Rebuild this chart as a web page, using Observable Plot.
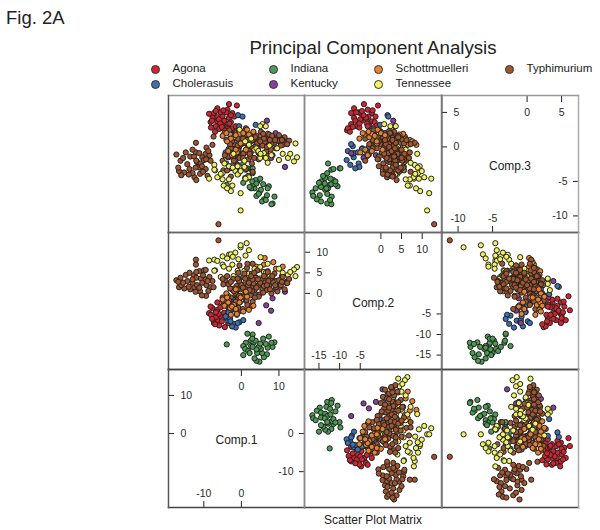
<!DOCTYPE html>
<html>
<head>
<meta charset="utf-8">
<script src="https://cdn.jsdelivr.net/npm/d3@7"></script>
<script src="https://cdn.jsdelivr.net/npm/@observablehq/plot@0.6"></script>
<style>
html,body{margin:0;padding:0;background:#fff;}
#root{position:relative;width:600px;height:530px;overflow:hidden;font-family:"Liberation Sans",Arial,sans-serif;color:#222;}
#root>*{position:absolute;}
.t{white-space:nowrap;line-height:1;}
.key{width:7px;height:7px;border-radius:50%;border:1px solid #333;}
</style>
</head>
<body>
<div id="root"></div>
<script>
// Scores: [Comp.1, Comp.2, Comp.3]
const agona = [[-3.3,-4.1,6.2],[-1.2,-0.7,6.0],[-6.4,-6.5,5.6],[-8.6,-4.8,4.8],[-7.3,-7.2,4.9],[-5.5,-5.5,5.0],[-3.7,-3.2,5.4],[-2.4,-2.2,4.9],[-6.4,-4.0,4.3],[-5.0,-3.0,4.4],[-3.3,-6.5,4.2],[-1.9,-1.3,4.4],[-7.7,-3.6,4.2],[-6.4,-2.2,3.7],[-4.6,-4.7,3.8],[-2.8,-1.5,3.6],[-6.8,-5.8,3.0],[-5.0,-1.0,3.1],[-3.7,-2.7,3.0],[-8.1,-5.2,2.8],[-5.9,-7.8,2.6],[-4.4,-8.2,2.4],[-2.4,-8.0,2.7],[-3.5,-7.2,3.3],[-7.0,-7.5,2.2],[-6.0,-5.0,4.0],[-4.0,-6.0,5.0],[-8.2,-3.2,3.6],[-7.8,-6.2,3.8],[-4.8,-2.0,5.3],[-2.8,-4.2,4.6],[-5.6,-3.4,3.4],[-6.8,-4.6,5.2],[-3.2,-5.2,3.4],[-1.5,-3.2,3.0],[-5.2,-6.8,2.9]];
const cholerasuis = [[-0.9,1.6,4.6],[0.3,1.8,4.4],[-0.8,-4.5,-0.2],[-4.0,-5.4,-2.4],[-3.5,-6.6,-1.5],[-2.2,-7.4,-2.6],[-1.5,-8.3,-1.9],[-0.5,-7.0,-1.0],[0.5,-6.5,-0.9],[-2.5,-8.0,-0.6],[-1.2,-5.2,-2.9],[-3.0,-6.2,-3.1],[-0.2,-4.0,-1.4],[-3.4,-4.6,-0.3],[-1.8,-3.3,-1.3],[-2.6,-3.0,-0.1],[-0.4,-2.2,0.3],[-2.9,-6.8,0.1],[-4.2,-5.6,-0.8],[-1.0,-7.2,0.4],[-1.8,-2.8,2.0],[-2.0,-1.6,1.2],[-0.6,3.4,3.0],[3.8,-0.2,3.2]];
const indiana = [[-3.9,-12.4,-5.5],[1.2,-12.0,-3.3],[0.5,-12.8,-2.4],[2.5,-11.5,-3.2],[7.3,-10.5,-5.7],[8.3,-13.0,-8.2],[8.8,-11.9,-7.2],[6.8,-14.8,-7.0],[6.0,-15.5,-7.6],[5.5,-14.5,-7.9],[4.8,-16.6,-6.6],[4.0,-16.4,-7.1],[3.5,-15.8,-6.0],[4.2,-14.5,-5.0],[5.2,-13.5,-6.2],[4.6,-13.0,-6.8],[3.2,-12.0,-5.4],[2.6,-12.8,-6.0],[3.8,-11.5,-4.8],[5.8,-11.0,-5.4],[1.0,-13.5,-4.5],[1.8,-14.0,-4.2],[2.2,-14.5,-5.8],[0.5,-15.0,-5.2],[7.0,-13.2,-6.0],[8.0,-12.0,-8.3],[3.0,-10.0,-3.1],[6.5,-12.3,-7.7],[2.9,-11.0,-5.0],[4.0,-13.6,-5.3],[1.6,-9.8,-3.1],[5.0,-12.2,-4.6],[3.0,-13.0,-3.8]];
const kentucky = [[4.6,-7.2,-0.9],[7.9,-4.2,-1.6],[6.6,-2.9,-1.1],[8.3,-1.2,-1.2],[11.6,0.4,-2.9],[12.0,2.8,0.5],[6.8,3.0,3.8],[9.1,1.0,2.0],[1.2,-1.8,2.7],[2.5,-3.2,-0.8],[10.2,1.6,0.8]];
const schottmuelleri = [[-4.5,-3.0,2.0],[-3.0,-3.6,1.8],[-2.0,-2.8,1.4],[-0.5,-2.2,1.9],[-5.0,-1.5,1.6],[-4.0,0.0,2.0],[-1.5,1.0,1.7],[-0.5,2.2,1.5],[0.8,1.8,1.0],[2.0,2.5,0.8],[3.2,-3.0,2.2],[2.0,-4.0,1.8],[0.5,-4.4,2.0],[-2.8,-5.2,1.2],[-1.2,-5.0,-0.8],[-2.5,-3.2,-1.2],[-0.2,-1.0,0.5],[-3.5,-2.2,-0.6],[1.2,0.4,-0.4],[4.0,6.5,0.4],[6.0,7.0,1.0],[8.5,7.6,0.8],[11.0,6.5,0.3],[4.8,5.8,1.5],[7.0,5.4,1.9],[9.2,6.0,1.2],[10.8,4.2,1.2],[12.0,2.5,0.5],[9.0,3.0,1.0],[5.5,2.0,0.3],[3.0,4.5,1.8],[6.2,8.6,0.3],[-1.5,-3.8,-0.4],[-3.8,-1.0,0.8],[1.5,-0.8,2.5]];
const tennessee = [[-0.2,11.2,-9.2],[-8.6,8.0,-4.6],[-7.0,5.6,-3.4],[-7.2,8.2,-2.6],[-7.2,5.5,-3.3],[-5.0,9.0,-3.8],[-6.4,7.9,-4.4],[-3.3,9.4,-2.8],[-5.0,7.0,-4.7],[-3.3,6.0,-4.7],[-2.4,7.0,-5.6],[-2.8,9.5,-6.4],[-0.2,11.7,-6.7],[1.4,12.2,-4.6],[2.0,10.5,-4.4],[-1.6,9.9,-3.5],[-0.8,8.3,-3.9],[1.1,9.2,-4.6],[-4.7,6.5,-5.6],[-3.8,8.5,-6.0],[-2.3,8.9,-3.0],[-1.0,5.5,-2.8],[-5.5,4.0,-3.9],[-1.0,3.5,-4.0],[0.8,4.0,-2.0],[14.8,6.4,-1.5],[14.0,5.8,-2.1],[14.4,4.2,0.5],[12.4,4.5,-1.6],[13.0,5.2,-1.0],[5.6,0.8,3.3],[6.5,2.3,3.0],[5.0,3.6,3.0],[-0.5,-0.5,2.5],[2.0,4.8,0.3],[3.5,6.0,-0.4],[5.0,6.4,-1.6],[7.0,7.2,-2.3],[8.0,3.5,-1.2],[9.5,3.0,-0.2],[11.0,5.0,-1.0],[10.0,6.0,-1.9],[7.5,4.2,0.2],[6.0,5.2,-0.9],[4.0,3.8,-0.2],[1.0,2.5,0.8],[2.6,1.5,1.2],[4.5,2.0,-0.6],[5.1,8.8,-1.0],[6.5,5.0,-1.6],[-2.1,4.2,-1.0],[-4.5,3.0,-2.4],[0.8,5.5,-2.9],[-0.2,0.5,-3.5]];
const typhimurium = [[-17.3,3.2,-1.1],[-16.6,1.5,-3.5],[-16.2,3.8,-2.0],[-15.2,1.2,-3.7],[-14.8,4.5,-0.8],[-14.4,3.0,-2.5],[-13.6,1.0,-1.4],[-13.8,5.0,-3.2],[-12.1,8.2,0.6],[-12.1,7.0,-0.8],[-12.6,4.4,-1.4],[-12.5,1.5,-4.4],[-12.0,3.8,-4.8],[-11.8,2.0,-2.2],[-11.2,5.4,-3.0],[-10.8,3.6,-2.4],[-10.4,2.6,-1.5],[-10.0,5.6,-1.9],[-9.5,5.7,-1.0],[-9.5,3.4,-3.2],[-9.3,2.0,-0.1],[-9.4,-0.6,-1.8],[-8.5,4.0,-1.2],[-8.2,1.5,-2.0],[-7.7,3.0,0.3],[-7.4,1.5,1.5],[-13.0,2.6,-3.8],[-16.0,2.0,-4.1],[-11.0,0.5,-3.9],[-6.1,12.9,-11.2],
[-15.5,2.6,-1.6],[-14.0,1.6,-4.0],[-13.0,3.4,-0.4],[-12.0,5.2,-2.0],[-11.2,1.4,-0.9],[-10.2,4.4,-3.6],[-9.0,3.0,-4.2],[-8.8,0.6,-0.6],[-16.8,2.8,-3.0],[-12.2,0.4,-3.0],[-10.5,-0.5,-2.8],
[12.7,3.5,0.9],[12.2,2.5,0.4],[11.5,1.0,1.4],[11.0,4.0,1.0],[10.5,2.0,0.2],[10.0,3.2,1.7],[9.6,0.5,0.9],[9.2,1.5,-0.2],[8.8,4.8,0.6],[8.4,2.8,1.3],[8.0,0.0,0.4],[7.8,3.6,-0.4],[7.4,1.8,1.8],[7.0,5.2,1.0],[6.6,0.8,-0.6],[6.2,2.6,0.7],[6.0,4.2,1.5],[5.6,1.2,0.2],[5.2,3.2,2.2],[4.8,-0.3,1.0],[4.6,2.0,-0.8],[4.2,5.6,0.5],[3.8,3.8,1.3],[3.5,0.8,0.0],[3.2,2.4,2.0],[2.8,4.8,-0.4],[2.5,-0.5,0.8],[2.2,1.6,1.6],[1.8,3.2,0.2],[1.5,6.2,1.0],[1.2,0.2,-0.8],[0.8,2.0,2.3],[0.5,4.0,-1.0],[0.2,-0.8,0.6],[-0.2,1.0,1.4],[-0.6,3.0,0.0],[-0.8,5.0,-0.4],[-1.0,-1.5,1.2],[-1.3,1.8,-0.9],[-1.6,0.0,2.2],[-2.0,-2.5,0.4],[-2.2,3.5,-1.6],[-2.5,1.0,0.8],[-2.8,-1.0,-0.2],[-3.0,-3.2,1.8],[-3.4,2.2,2.0],[-3.6,-0.5,-1.4],[-4.0,-2.0,1.0],[-4.4,3.2,-1.2],[-4.8,2.2,-3.4],[-5.0,3.5,-2.0],[-2.0,-3.8,-2.0],[-0.8,-3.5,-0.6],[0.4,-3.8,1.2],[1.6,-2.8,0.4],[3.0,-2.0,-0.2],[-1.5,-2.0,2.0],[-3.8,4.2,-3.4],[-2.8,2.8,-4.3],[-0.5,6.8,-1.6],[0.8,4.8,-3.0],[1.2,1.2,-3.2],[2.8,0.6,-2.4],[3.0,7.2,-3.6],[-1.0,3.6,-2.6],[1.8,2.0,-1.8],[2.4,3.2,-1.4],[4.6,-0.8,-1.8],[1.6,7.2,0.4],[-1.8,1.2,-3.0],
[9.0,2.0,1.0],[7.2,3.0,0.2],[6.0,1.8,1.2],[5.0,2.6,0.8],[4.0,1.4,1.6],[3.0,3.4,1.0],[2.0,2.6,-0.6],[1.0,3.6,0.6],[0.0,2.0,0.4],[-1.0,1.0,0.2],[-2.0,0.5,1.4],[-3.0,1.2,0.4],[10.8,2.8,1.0],[8.2,4.2,1.6],[5.8,0.2,1.9],[3.6,-1.0,1.4],[1.4,-1.6,1.8],[-0.6,-0.6,2.4],[6.8,2.0,0.0],[4.4,3.4,-0.2],[2.6,4.2,1.4],[7.6,1.0,1.0],[0.4,1.4,-1.6],[2.2,0.8,-1.0],[3.4,5.0,-1.6],[-3.2,-1.8,2.4]];

const serotypes = ["Agona","Cholerasuis","Indiana","Kentucky","Schottmuelleri","Tennessee","Typhimurium"];
const colours = ["#d6222e","#3c70b4","#4b9c52","#8a3f9c","#e8822e","#f2f25e","#a2552f"];
const tag = (name,list) => list.map(c=>({name,c}));
const under = [...tag("Agona",agona),...tag("Cholerasuis",cholerasuis),...tag("Kentucky",kentucky),...tag("Indiana",indiana)];
// Overplotting: the low Comp.2 Schottmuelleri samples sit on top of Typhimurium, the rest beneath it
const schottTop = tag("Schottmuelleri",schottmuelleri.filter(c=>c[1]<1.5)), schottBelow = tag("Schottmuelleri",schottmuelleri.filter(c=>c[1]>=1.5));
const typh = tag("Typhimurium",typhimurium), tenn = tag("Tennessee",tennessee);
// Tennessee shows above Typhimurium where Comp.1 meets Comp.3, below it elsewhere
const pointsA = [...under,...schottBelow,...typh,...schottTop,...tenn];
const pointsB = [...under,...schottBelow,...tenn,...typh,...schottTop];

const compNames = ["Comp.1","Comp.2","Comp.3"];
const compDomains = [[-19.4,16.8],[-18.5,14.8],[-12.4,7.45]];
// Which labelled ticks each diagonal panel shows on each side
const ticksBottom = [[-10,0],[-15,-10,-5],[-10,-5]];
const ticksTop    = [[0,10],[0,5,10],[0,5]];
const ticksLeft   = [[10,0],[10,5,0],[5,0]];
const ticksRight  = [[0,-10],[-5,-10,-15],[-5,-10]];

const colEdges = [167.5,303.5,441,578];
const rowEdges = [95,232,369,507];
const colLine  = ["#555","#8a8a8a","#777","#aaa"];
const rowLine  = ["#999","#666","#444","#444"];

const root = document.getElementById("root");
const fmt = d => String(d);

function panel(col,row){
  const xc = col, yc = 2-row;
  const w = colEdges[col+1]-colEdges[col], h = rowEdges[row+1]-rowEdges[row];
  const frames = [
    Plot.frame({anchor:"top",stroke:rowLine[row],strokeWidth:1.5}),
    Plot.frame({anchor:"bottom",stroke:rowLine[row+1],strokeWidth:1.5}),
    Plot.frame({anchor:"left",stroke:colLine[col],strokeWidth:1.5}),
    Plot.frame({anchor:"right",stroke:colLine[col+1],strokeWidth:1.5})
  ];
  const marks = [];
  if (xc===yc){
    const tf = {tickFormat:fmt,label:null,fontSize:10.5,stroke:"#222",tickSize:-6,fill:"#2a2a2a"};
    marks.push(
      Plot.axisX(ticksBottom[xc],{...tf,anchor:"bottom",tickPadding:-5,lineAnchor:"bottom"}),
      Plot.axisX(ticksTop[xc],{...tf,anchor:"top",tickPadding:-7.5,lineAnchor:"top"}),
      Plot.axisY(ticksLeft[xc],{...tf,anchor:"left",tickPadding:-6,textAnchor:"start"}),
      Plot.axisY(ticksRight[xc],{...tf,anchor:"right",tickPadding:-5,textAnchor:"end"}),
      Plot.text([compNames[xc]],{frameAnchor:"middle",text:d=>d,fontSize:12,fill:"#222",dy:2})
    );
  } else {
    const pts = (xc+yc===2) ? pointsA : pointsB;
    marks.push(Plot.dot(pts,{x:d=>d.c[xc],y:d=>d.c[yc],fill:"name",stroke:"#222",strokeWidth:1,r:2.6}));
  }
  const svg = Plot.plot({
    width:w,height:h,margin:0,
    x:{domain:compDomains[xc],axis:null},
    y:{domain:compDomains[yc],axis:null},
    color:{domain:serotypes,range:colours},
    style:{overflow:"visible",background:"transparent",fontFamily:"'Liberation Sans',Arial,sans-serif",position:"absolute",left:colEdges[col]+"px",top:rowEdges[row]+"px"},
    marks:[...marks,...frames]
  });
  root.appendChild(svg);
}
for (let r=0;r<3;r++) for (let c=0;c<3;c++) panel(c,r);

function label(text,x,y,size,anchor){
  const d=document.createElement("div");
  d.className="t";d.textContent=text;
  d.style.fontSize=size+"px";d.style.left=x+"px";d.style.top=(y-size/2)+"px";
  if(anchor==="middle")d.style.transform="translateX(-50%)";
  root.appendChild(d);
}
label("Fig. 2A",6,18,18.5);
label("Principal Component Analysis",373,48,18.7,"middle");
label("Scatter Plot Matrix",373,520,12,"middle");

// legend: [dot x, row y] per serotype, in the reference's reading order
const legendAt = [[155,69],[155,84],[273,69],[273,84],[378,69],[378,84],[509,69]];
serotypes.forEach((s,i)=>{
  const [x,y]=legendAt[i];
  const k=document.createElement("div");
  k.className="key";k.style.left=(x-4)+"px";k.style.top=(y-4)+"px";k.style.background=colours[i];
  root.appendChild(k);
  label(s,x+17.5,y,11.5);
});
</script>
</body>
</html>
